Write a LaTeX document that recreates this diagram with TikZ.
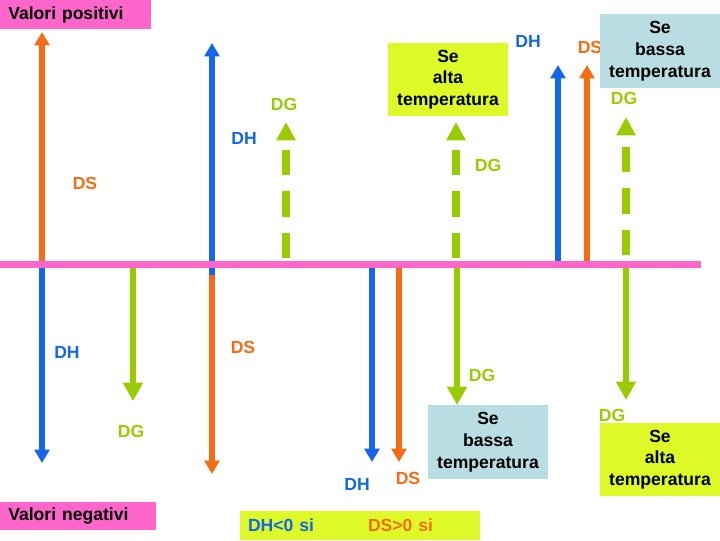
\documentclass[tikz,border=0pt]{standalone}
\usepackage{fontspec}
\setmainfont{Liberation Sans}
\usetikzlibrary{
	arrows.meta,
	positioning
}

\definecolor{rosa}{RGB}{255,102,204}
\definecolor{lime}{RGB}{221,250,40}
\definecolor{celeste}{RGB}{184,222,228}
\definecolor{arancio}{RGB}{245,108,20}
\definecolor{blu}{RGB}{20,102,235}
\definecolor{verde}{RGB}{153,204,0}

\begin{document}
\begin{tikzpicture}[x=0.025cm, y=-0.025cm,
  font=\fontsize{12.5}{15.5}\selectfont\bfseries,
  etichetta/.style={inner sep=0pt},
  riquadro/.style={rectangle, minimum width=3cm, minimum height=1.83cm,
    align=center, inner sep=0pt},
  titolo/.style={rectangle, fill=rosa, anchor=north west, align=left,
    inner xsep=0.2cm, inner ysep=0pt},
  esito/.style={rectangle, fill=lime, anchor=north west, align=left, outer sep=0pt,
    text width=2.6cm, inner xsep=0.2cm, inner ysep=0pt, minimum height=0.725cm},
  freccia/.style={-{Triangle[length=9.5pt, width=10.5pt]}, line width=3.6pt},
  frecciaG/.style={-{Triangle[length=13pt, width=13.5pt]}, line width=4.7pt, color=verde},
  tratteggio/.style={-{Triangle[length=13pt, width=13pt]}, line width=5pt, color=verde,
    dash pattern=on 17.8pt off 11.7pt}
]
\useasboundingbox (0,0) rectangle (720,540);

% etichette
\foreach \x/\y/\col/\testo [count=\i] in {
  85/183/arancio/DS, 244/138/blu/DH, 284/104/verde/DG, 488/165/verde/DG,
  528/41/blu/DH, 590/47/arancio/DS, 624/98/verde/DG,
  67/352/blu/DH, 131/431/verde/DG, 243/347/arancio/DS, 357/484/blu/DH,
  408/478/arancio/DS, 482/375/verde/DG, 612/415/verde/DG}
{
  \node[etichetta, text=\col] (et\i) at (\x,\y) {\testo};
}

% riquadri
\node[titolo, text width=3.375cm, minimum height=0.725cm] (positivi) at (0,0) {Valori positivi};
\node[titolo, text width=3.5cm, minimum height=0.7cm] (negativi) at (0,502) {Valori negativi};
\node[riquadro, fill=lime] (altaSu) at (448,79.5) {Se\\alta\\temperatura};
\node[riquadro, fill=celeste] (bassaSu) at (660,51) {Se\\bassa\\temperatura};
\node[riquadro, fill=celeste] (bassaGiu) at (488,442) {Se\\bassa\\temperatura};
\node[riquadro, fill=lime] (altaGiu) at (660,459.5) {Se\\alta\\temperatura};
\node[esito, text=blu] (esitoH) at (240,511) {DH<0 si};
\node[esito, text=arancio, right=0pt of esitoH] (esitoS) {DS>0 si};

% frecce DH e DS
\foreach \x/\da/\a/\col [count=\i] in {
  42/264/32/arancio, 42/264/463/blu, 212/275/43/blu, 212/275/474/arancio,
  558/264/65/blu, 587/264/65/arancio, 372/264/462/blu, 399/264/462/arancio}
{
  \coordinate (base\i) at (\x,\da);
  \coordinate (punta\i) at (\x,\a);
  \draw[freccia, color=\col] (base\i) -- (punta\i);
}

% frecce DG
\foreach \x/\a [count=\i] in {133/401, 457/405, 626/400}
{
  \coordinate (baseG\i) at (\x,264);
  \coordinate (puntaG\i) at (\x,\a);
  \draw[frecciaG] (baseG\i) -- (puntaG\i);
}
\foreach \x/\da/\a [count=\i] in {286/258/122, 456/258/122, 626/255/117}
{
  \coordinate (baseT\i) at (\x,\da);
  \coordinate (puntaT\i) at (\x,\a);
  \draw[tratteggio] (baseT\i) -- (puntaT\i);
}

% asse
\coordinate (asseS) at (0,264.5);
\coordinate (asseD) at (701,264.5);
\draw[rosa, line width=4.3pt] (asseS) -- (asseD);
\end{tikzpicture}
\end{document}
